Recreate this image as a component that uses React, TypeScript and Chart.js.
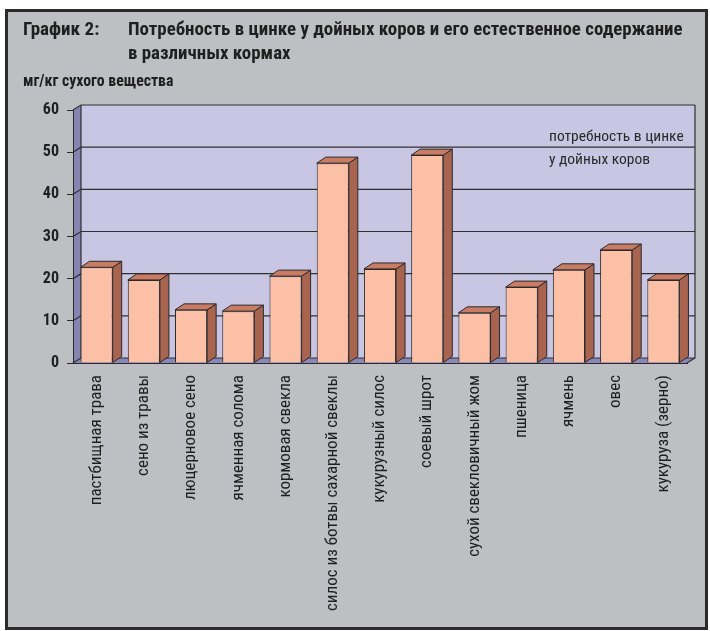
import React, { useEffect, useRef } from "react";
import { Chart, registerables } from "chart.js";

Chart.register(...registerables);

const categories = [
  "пастбищная трава",
  "сено из травы",
  "люцерновое сено",
  "ячменная солома",
  "кормовая свекла",
  "силос из ботвы сахарной свеклы",
  "кукурузный силос",
  "соевый шрот",
  "сухой свекловичный жом",
  "пшеница",
  "ячмень",
  "овес",
  "кукуруза (зерно)",
];

// zinc content, mg per kg of dry matter
const zincValues = [22.7, 19.7, 12.6, 12.3, 20.6, 47.4, 22.3, 49.3, 11.9, 18.0, 22.1, 26.8, 19.7];

const yTicks = [0, 10, 20, 30, 40, 50, 60];

const noteLines = ["потребность в цинке", "у дойных коров"];

const FONT = "'Roboto Condensed', 'Open Sans Condensed', 'DejaVu Sans Condensed', sans-serif";

// depth of the 3D box (walls and bars)
const WALL_DX = 8;
const WALL_DY = -5;
const BAR_DX = 9;
const BAR_DY = -6;

const COLORS = {
  page: "#bebfc3",
  wall: "#c8c6e3",
  sideWall: "#8684b0",
  floor: "#8a88b6",
  grid: "#303030",
  barFront: "#fbc0a6",
  barSide: "#a8644f",
  barTop: "#c97c63",
  outline: "#2a2a2a",
  text: "#1f1f1f",
};

const box3d = {
  id: "box3d",
  beforeDraw(chart: any) {
    const { ctx, chartArea } = chart;
    const { left, right, top, bottom } = chartArea;
    const y = chart.scales.y;
    ctx.save();
    // back wall
    ctx.fillStyle = COLORS.wall;
    ctx.fillRect(left + WALL_DX, top + WALL_DY, right - left, bottom - top);
    // left side wall
    ctx.fillStyle = COLORS.sideWall;
    ctx.beginPath();
    ctx.moveTo(left, top);
    ctx.lineTo(left + WALL_DX, top + WALL_DY);
    ctx.lineTo(left + WALL_DX, bottom + WALL_DY);
    ctx.lineTo(left, bottom);
    ctx.closePath();
    ctx.fill();
    // floor
    ctx.fillStyle = COLORS.floor;
    ctx.beginPath();
    ctx.moveTo(left, bottom);
    ctx.lineTo(left + WALL_DX, bottom + WALL_DY);
    ctx.lineTo(right + WALL_DX, bottom + WALL_DY);
    ctx.lineTo(right, bottom);
    ctx.closePath();
    ctx.fill();

    ctx.strokeStyle = COLORS.grid;
    ctx.lineWidth = 1.2;
    for (const v of yTicks) {
      const py = y.getPixelForValue(v);
      ctx.beginPath();
      ctx.moveTo(left, py);
      ctx.lineTo(left + WALL_DX, py + WALL_DY);
      ctx.lineTo(right + WALL_DX, py + WALL_DY);
      ctx.stroke();
    }
    // wall edges
    ctx.beginPath();
    ctx.moveTo(left + WALL_DX, top + WALL_DY);
    ctx.lineTo(left + WALL_DX, bottom + WALL_DY);
    ctx.moveTo(right + WALL_DX, top + WALL_DY);
    ctx.lineTo(right + WALL_DX, bottom + WALL_DY);
    ctx.lineTo(right, bottom);
    ctx.stroke();

    // note about the requirement
    ctx.fillStyle = "#2a2a2a";
    ctx.font = `15.5px ${FONT}`;
    ctx.textBaseline = "middle";
    ctx.textAlign = "left";
    ctx.fillText(noteLines[0], right - 138, top + 27);
    ctx.fillText(noteLines[1], right - 138, top + 50);
    ctx.restore();
  },
  afterDatasetsDraw(chart: any) {
    const { ctx } = chart;
    const meta = chart.getDatasetMeta(0);
    ctx.save();
    ctx.strokeStyle = COLORS.outline;
    ctx.lineWidth = 1;
    ctx.lineJoin = "round";
    for (const bar of meta.data) {
      const { x, y, base, width } = bar.getProps(["x", "y", "base", "width"], true);
      const l = x - width / 2;
      const r = x + width / 2;
      // right face
      ctx.fillStyle = COLORS.barSide;
      ctx.beginPath();
      ctx.moveTo(r, y);
      ctx.lineTo(r + BAR_DX, y + BAR_DY);
      ctx.lineTo(r + BAR_DX, base + BAR_DY);
      ctx.lineTo(r, base);
      ctx.closePath();
      ctx.fill();
      ctx.stroke();
      // top face
      ctx.fillStyle = COLORS.barTop;
      ctx.beginPath();
      ctx.moveTo(l, y);
      ctx.lineTo(l + BAR_DX, y + BAR_DY);
      ctx.lineTo(r + BAR_DX, y + BAR_DY);
      ctx.lineTo(r, y);
      ctx.closePath();
      ctx.fill();
      ctx.stroke();
    }
    ctx.restore();
  },
};

export default function App() {
  const canvasRef = useRef<HTMLCanvasElement>(null);

  useEffect(() => {
    if (!canvasRef.current) return;
    const chart = new Chart(canvasRef.current, {
      type: "bar",
      data: {
        labels: categories,
        datasets: [
          {
            data: zincValues,
            backgroundColor: COLORS.barFront,
            borderColor: COLORS.outline,
            borderWidth: 1,
            categoryPercentage: 1,
            barPercentage: 0.68,
          },
        ],
      },
      options: {
        responsive: false,
        animation: false,
        layout: { padding: { left: 0, top: 110, right: 23, bottom: 0 } },
        plugins: {
          legend: { display: false },
          tooltip: { enabled: false },
        },
        scales: {
          x: {
            grid: { display: false, drawTicks: false },
            border: { display: true, color: COLORS.outline, width: 1 },
            ticks: {
              autoSkip: false,
              minRotation: 90,
              maxRotation: 90,
              padding: 12,
              color: COLORS.text,
              font: { family: FONT, size: 17 },
            },
            afterFit(scale: any) {
              scale.height = 268;
            },
          },
          y: {
            min: 0,
            max: 60,
            grid: { drawOnChartArea: false, drawTicks: true, tickLength: 6, color: COLORS.outline },
            border: { display: true, color: COLORS.outline, width: 1 },
            ticks: {
              stepSize: 10,
              padding: 8,
              color: COLORS.text,
              font: { family: FONT, size: 16, weight: "bold" },
            },
            afterFit(scale: any) {
              scale.width = 73;
            },
          },
        },
      },
      plugins: [box3d],
    });
    return () => chart.destroy();
  }, []);

  const titleFont = { fontFamily: FONT, fontWeight: "bold", color: "#1f1f1f" } as const;

  return (
    <div style={{ position: "fixed", left: 0, top: 0, width: 710, height: 631, background: "#fff" }}>
      <div
        style={{
          position: "absolute",
          left: 5,
          top: 9,
          width: 703,
          height: 621,
          boxSizing: "border-box",
          border: "3px solid #2b2b2b",
          background: COLORS.page,
        }}
      />
      <canvas ref={canvasRef} width={710} height={631} style={{ position: "absolute", left: 0, top: 0 }} />
      <div style={{ ...titleFont, position: "absolute", left: 23, top: 17, fontSize: 19, lineHeight: "24px" }}>
        График 2:
      </div>
      <div style={{ ...titleFont, position: "absolute", left: 128, top: 17, fontSize: 18.9, lineHeight: "24px", whiteSpace: "nowrap" }}>
        Потребность в цинке у дойных коров и его естественное содержание
        <br />в различных кормах
      </div>
      <div style={{ ...titleFont, position: "absolute", left: 23, top: 71, fontSize: 15.8, lineHeight: "20px", whiteSpace: "nowrap" }}>
        мг/кг сухого вещества
      </div>
    </div>
  );
}
